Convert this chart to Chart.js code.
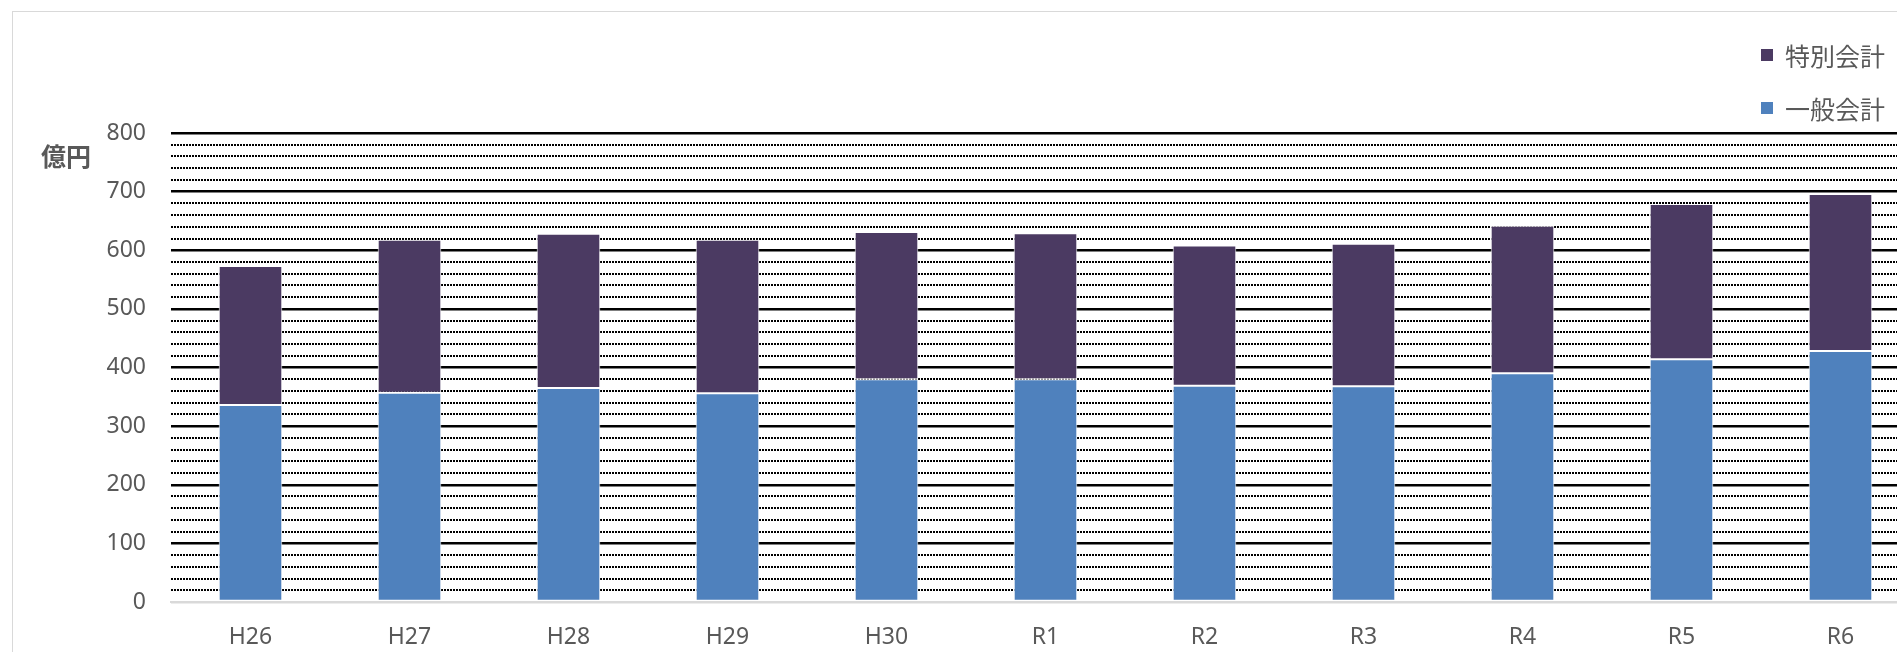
<!DOCTYPE html>
<html>
<head>
<meta charset="utf-8">
<script src="https://cdn.jsdelivr.net/npm/chart.js@4"></script>
<style>
  html, body { margin: 0; padding: 0; width: 1897px; height: 652px; overflow: hidden; background: #fff; }
  #frame { position: absolute; left: 12px; top: 11px; width: 2000px; height: 800px; border: 1px solid #d9d9d9; box-sizing: border-box; }
  #wrap { position: absolute; left: 0; top: 0; width: 1940px; height: 652px; }
  #unit { position: absolute; left: 41px; top: 140px; font: bold 25px "Noto Sans CJK JP", "Noto Sans", sans-serif; color: #595959; line-height: 30px; }
  #legend { position: absolute; left: 1761px; top: 38px; font: 25px "Noto Sans CJK JP", "Noto Sans", sans-serif; color: #595959; }
  .item { display: flex; align-items: center; height: 34px; margin-bottom: 19px; }
  .sw { width: 12px; height: 12px; margin-right: 12px; }
</style>
</head>
<body>
<div id="frame"></div>
<div id="wrap"><canvas id="c"></canvas></div>
<div id="unit">億円</div>
<div id="legend"></div>
<script>
const categories = ["H26", "H27", "H28", "H29", "H30", "R1", "R2", "R3", "R4", "R5", "R6"];
const generalAccount = [336, 357, 365, 356, 380, 380, 369, 368, 390, 414, 428];
const specialAccount = [237, 261, 263, 262, 251, 249, 239, 243, 252, 265, 268];
const seriesNames = ["一般会計", "特別会計"];
const seriesColors = ["#4F81BD", "#4B3A62"];
const yMin = 0, yMax = 800, yMinorStep = 20, yMajorStep = 100;

const font = { family: '"Noto Sans", "Noto Sans CJK JP", sans-serif', size: 23 };

const chart = new Chart(document.getElementById('c'), {
  type: 'bar',
  data: {
    labels: categories,
    datasets: [
      { label: seriesNames[0], data: generalAccount, backgroundColor: seriesColors[0], borderColor: '#ffffff', borderWidth: 1, borderSkipped: false },
      { label: seriesNames[1], data: specialAccount, backgroundColor: seriesColors[1], borderColor: '#ffffff', borderWidth: 1, borderSkipped: false }
    ]
  },
  options: {
    responsive: true,
    maintainAspectRatio: false,
    animation: false,
    devicePixelRatio: 1,
    layout: { padding: { top: 133, left: 106, right: 20, bottom: 0 } },
    plugins: { legend: { display: false }, tooltip: { enabled: false } },
    datasets: { bar: { categoryPercentage: 1.0, barPercentage: 0.40 } },
    scales: {
      x: {
        stacked: true,
        grid: { display: false, drawTicks: false },
        border: { display: true, color: '#d9d9d9', width: 2 },
        ticks: { color: '#595959', font: font, padding: 22, maxRotation: 0 },
        afterFit: (s) => { s.height = 50; }
      },
      y: {
        stacked: true,
        min: yMin, max: yMax,
        grid: {
          drawTicks: false,
          color: (ctx) => (ctx.tick && ctx.tick.value === 0) ? '#d9d9d9' : '#000000',
          lineWidth: (ctx) => (ctx.tick && ctx.tick.value % yMajorStep === 0) ? 2.5 : 2
        },
        border: {
          display: false,
          dash: (ctx) => (ctx.tick && ctx.tick.value % yMajorStep !== 0) ? [2, 1] : []
        },
        ticks: {
          stepSize: yMinorStep,
          autoSkip: false,
          color: '#595959',
          font: font,
          padding: 25,
          callback: (v) => (v % yMajorStep === 0 ? v : '')
        },
        afterFit: (s) => { s.width = 65; }
      }
    }
  }
});

// HTML legend built from datasets (reverse order as in reference)
const lg = document.getElementById('legend');
chart.data.datasets.slice().reverse().forEach(ds => {
  const it = document.createElement('div'); it.className = 'item';
  const sw = document.createElement('div'); sw.className = 'sw'; sw.style.background = ds.backgroundColor;
  const tx = document.createElement('span'); tx.textContent = ds.label;
  it.appendChild(sw); it.appendChild(tx); lg.appendChild(it);
});
</script>
</body>
</html>
